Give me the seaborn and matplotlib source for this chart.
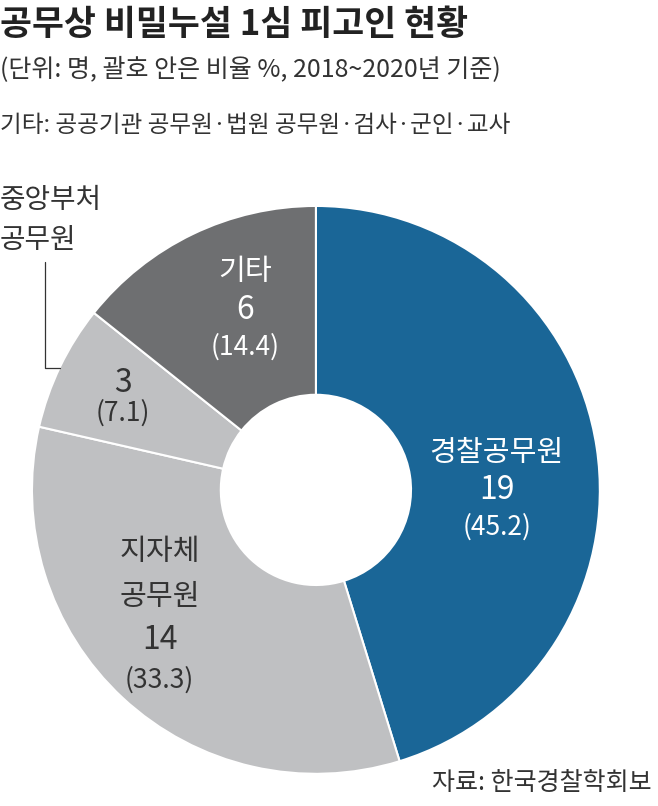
import numpy as np
import pandas as pd
import matplotlib
matplotlib.use("Agg")
import matplotlib.pyplot as plt
import seaborn as sns

### data
categories = ['경찰공무원', '지자체 공무원', '중앙부처 공무원', '기타']
counts = [19, 14, 3, 6]
shares = [45.2, 33.3, 7.1, 14.4]
colors = ['#1a6697', '#bfc0c2', '#bfc0c2', '#6e6f71']

df = pd.DataFrame({'category': categories, 'count': counts, 'share': shares})

sns.set_style('white')
plt.rcParams['font.family'] = ['Noto Sans CJK KR', 'DejaVu Sans']

fig = plt.figure(figsize=(6.58, 8.06), dpi=100)
ax = fig.add_axes([0.0486, 0.0397, 0.863, 0.705])

ax.pie(df['count'], colors=colors, startangle=90, counterclock=False,
       wedgeprops=dict(width=0.665, edgecolor='white', linewidth=1.5))
ax.set_xlim(-1, 1)
ax.set_ylim(-1, 1)
ax.set_aspect('equal')
ax.axis('off')

# labels inside wedges
dark = '#333333'
name_fs, num_fs, pct_fs = 21, 23, 19
ax.text(0.637, 0.13, '경찰공무원', color='white', fontsize=name_fs, ha='center', va='center')
ax.text(0.637, 0.0, str(counts[0]), color='white', fontsize=num_fs, fontweight='medium', ha='center', va='center')
ax.text(0.637, -0.13, f'({shares[0]})', color='white', fontsize=pct_fs, ha='center', va='center')

ax.text(-0.25, 0.768, '기타', color='white', fontsize=name_fs, ha='center', va='center')
ax.text(-0.25, 0.634, str(counts[3]), color='white', fontsize=num_fs, fontweight='medium', ha='center', va='center')
ax.text(-0.25, 0.504, f'({shares[3]})', color='white', fontsize=pct_fs, ha='center', va='center')

ax.text(-0.68, 0.377, str(counts[2]), color=dark, fontsize=num_fs, fontweight='medium', ha='center', va='center')
ax.text(-0.68, 0.271, f'({shares[2]})', color=dark, fontsize=pct_fs, ha='center', va='center')

ax.text(-0.55, -0.218, '지자체', color=dark, fontsize=name_fs, ha='center', va='center')
ax.text(-0.55, -0.377, '공무원', color=dark, fontsize=name_fs, ha='center', va='center')
ax.text(-0.55, -0.528, str(counts[1]), color=dark, fontsize=num_fs, fontweight='medium', ha='center', va='center')
ax.text(-0.55, -0.669, f'({shares[1]})', color=dark, fontsize=pct_fs, ha='center', va='center')

# outside label with leader line
fig.text(0.0, 1 - 200/806, '중앙부처', color=dark, fontsize=20, ha='left', va='center')
fig.text(0.0, 1 - 240/806, '공무원', color=dark, fontsize=20, ha='left', va='center')
ax.plot([-0.954, -0.954, -0.90], [0.803, 0.430, 0.430], color=dark, lw=0.9,
        clip_on=False)

# header
fig.text(0.0, 1 - 25/806, '공무상 비밀누설 1심 피고인 현황', fontsize=25,
         fontweight='bold', color='#222222', ha='left', va='center')
fig.text(0.0, 1 - 70/806, '(단위: 명, 괄호 안은 비율 %, 2018~2020년 기준)',
         fontsize=18, color=dark, ha='left', va='center')
fig.text(0.0, 1 - 125/806, '기타: 공공기관 공무원·법원 공무원·검사·군인·교사',
         fontsize=17, color=dark, ha='left', va='center')
fig.text(0.99, 1 - 783/806, '자료: 한국경찰학회보', fontsize=18, color=dark,
         ha='right', va='center')

fig.savefig('out.png', dpi=100)
